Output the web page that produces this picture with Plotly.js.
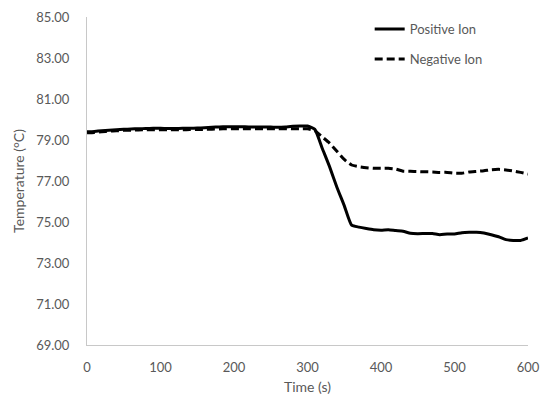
<!DOCTYPE html>
<html>
<head>
<meta charset="utf-8">
<script src="https://cdn.plot.ly/plotly-3.0.1.min.js"></script>
<style>html,body{margin:0;padding:0;background:#fff}#chart{width:550px;height:396px}</style>
</head>
<body>
<div id="chart"></div>
<script>
var timeS = [0,10,20,30,40,50,60,70,80,90,100,110,120,130,140,150,160,170,180,190,200,210,220,230,240,250,260,270,280,290,300,310,320,330,340,350,360,370,380,390,400,410,420,430,440,450,460,470,480,490,500,510,520,530,540,550,560,570,580,590,600];
var positiveIon = [79.40,79.42,79.45,79.48,79.50,79.52,79.54,79.55,79.56,79.57,79.57,79.56,79.56,79.57,79.57,79.58,79.60,79.62,79.64,79.65,79.65,79.65,79.64,79.63,79.63,79.63,79.62,79.64,79.67,79.68,79.68,79.52,78.60,77.70,76.70,75.80,74.85,74.75,74.68,74.62,74.60,74.62,74.58,74.55,74.45,74.43,74.44,74.44,74.38,74.42,74.41,74.48,74.50,74.50,74.46,74.38,74.28,74.14,74.10,74.10,74.22];
var negativeIon = [79.35,79.37,79.40,79.43,79.45,79.47,79.48,79.49,79.50,79.50,79.50,79.50,79.50,79.50,79.51,79.51,79.52,79.53,79.54,79.55,79.55,79.55,79.55,79.55,79.55,79.55,79.55,79.55,79.55,79.55,79.55,79.45,79.15,78.85,78.45,78.05,77.78,77.70,77.65,77.62,77.62,77.62,77.58,77.48,77.47,77.46,77.45,77.44,77.42,77.42,77.38,77.38,77.44,77.47,77.50,77.55,77.57,77.54,77.49,77.42,77.34];
var seriesNames = ['Positive Ion','Negative Ion'];
var yTicks = [69,71,73,75,77,79,81,83,85];
var yTickText = ['69.00','71.00','73.00','75.00','77.00','79.00','81.00','83.00','85.00'];
var xTicks = [0,100,200,300,400,500,600];

var font = 'Lato, "Open Sans", sans-serif';
var traces = [
  {x: timeS, y: positiveIon, name: seriesNames[0], mode: 'lines', legendgroup: 'a',
   line: {color: '#000', width: 3, shape: 'spline', smoothing: 0.5}},
  {x: timeS, y: negativeIon, name: seriesNames[1], mode: 'lines', legendgroup: 'b',
   line: {color: '#000', width: 3, dash: '8px,4px', shape: 'spline', smoothing: 0.5}}
];
var layout = {
  width: 550, height: 396,
  margin: {l: 87, r: 22, t: 17, b: 51},
  paper_bgcolor: '#fff', plot_bgcolor: '#fff',
  font: {family: font, size: 13, color: '#595959'},
  showlegend: true,
  legend: {x: 0.641, y: 1.009, xanchor: 'left', yanchor: 'top', bgcolor: 'rgba(0,0,0,0)',
           tracegroupgap: 10, font: {family: font, size: 13, color: '#595959'}},
  xaxis: {range: [0, 600], tickvals: xTicks, showgrid: false, zeroline: false,
          showline: true, linecolor: '#c8c8c8', linewidth: 1, ticks: '',
          ticklabelstandoff: 10,
          tickfont: {family: font, size: 13, color: '#595959'},
          title: {text: 'Time (s)', font: {family: font, size: 14, color: '#595959'}, standoff: 8}},
  yaxis: {range: [69, 85], tickvals: yTicks, ticktext: yTickText, showgrid: false, zeroline: false,
          showline: true, linecolor: '#c8c8c8', linewidth: 1, ticks: '',
          ticklabelstandoff: 14,
          tickfont: {family: font, size: 13, color: '#595959'},
          title: {text: 'Temperature (°C)', font: {family: font, size: 14, color: '#595959'}, standoff: 8}}
};
Plotly.newPlot('chart', traces, layout, {displayModeBar: false, staticPlot: true});
</script>
</body>
</html>
